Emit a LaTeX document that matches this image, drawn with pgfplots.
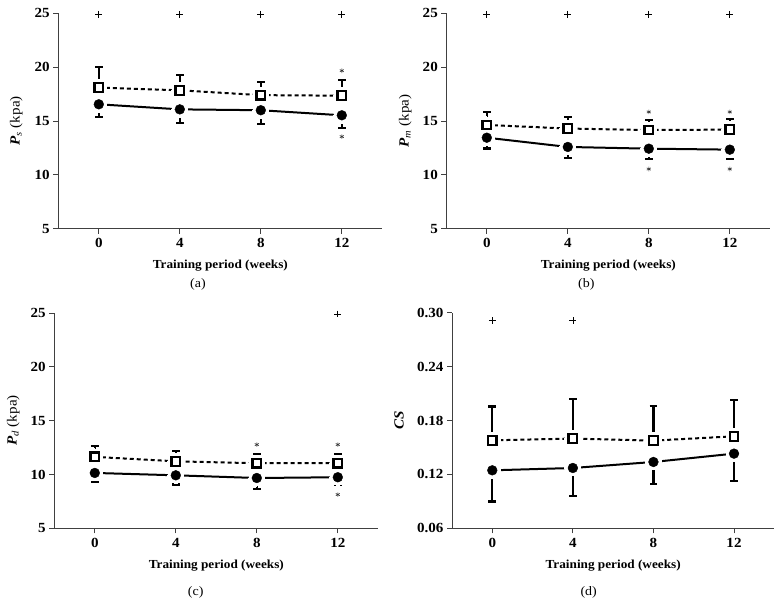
\documentclass[border=0pt]{standalone}
\usepackage{fontspec}
\setmainfont{Liberation Serif}[FakeStretch=1.08]
\usepackage{pgfplots}
\pgfplotsset{compat=1.18}
\pgfplotsset{
  base/.style={
    scale only axis, width=324bp, height=215.4bp,
    xmin=-2, xmax=14, ymin=5, ymax=25, ytick={5,10,15,20,25}, xtick={0,4,8,12},
    axis x line*=bottom, axis y line*=left,
    axis line style={black!75, line width=0.8bp},
    tick style={black!75, line width=0.8bp}, tick align=outside, major tick length=5bp,
    ticklabel style={font=\fontsize{14}{15}\selectfont\bfseries, black},
    xticklabel style={yshift=-1.5bp},
    /pgf/number format/assume math mode=true,
    xlabel={Training period (weeks)},
    xlabel style={font=\fontsize{12.3}{14}\selectfont\bfseries, at={(axis description cs:0.5,0)}, anchor=north, yshift=-28bp},
    ylabel style={font=\fontsize{14}{15}\selectfont, at={(axis description cs:-0.13,0.5)}, anchor=center},
    clip=false, anchor=south west,
  },
  halo/.style={only marks, mark=*, mark size=8bp, mark options={fill=white, draw=white, line width=0pt}, forget plot},
  lineS/.style={black, line width=2bp, dash pattern=on 4bp off 3bp, no marks},
  lineC/.style={black, line width=2bp, solid, no marks},
  sq/.style={only marks, mark=square*, mark size=4.3bp, mark options={fill=white, draw=black, line width=2.2bp, solid},
    error bars/.cd, y dir=plus, y explicit, error bar style={line width=2.2bp, black, solid},
    error mark options={rotate=90, line width=2.2bp, mark size=3.8bp, black, solid}},
  ci/.style={only marks, mark=*, mark size=4.9bp, mark options={fill=black, draw=black, solid},
    error bars/.cd, y dir=minus, y explicit, error bar style={line width=2.2bp, black, solid},
    error mark options={rotate=90, line width=2.2bp, mark size=3.8bp, black, solid}},
  plusm/.style={only marks, mark=+, mark size=3.4bp, mark options={line width=0.7bp, black}},
  starm/.style={only marks, mark=asterisk, mark size=2.3bp, mark options={line width=0.6bp, black!80}},
}
\begin{document}
\begin{tikzpicture}
\useasboundingbox (0,0) rectangle (784bp,616bp);

% (a)
\begin{axis}[base, at={(58.3bp,387.3bp)}, ylabel={\textbf{\textit{P}}\textsubscript{\textit{s}} (kpa)}]
\addplot[lineS] coordinates {(0,18.1) (4,17.85) (8,17.4) (12,17.35)};
\addplot[lineC] coordinates {(0,16.55) (4,16.08) (8,16.0) (12,15.53)};
\addplot[halo] coordinates {(0,18.1) (4,17.85) (8,17.4) (12,17.35)};
\addplot[halo] coordinates {(0,16.55) (4,16.08) (8,16.0) (12,15.53)};
\addplot[sq] coordinates {(0,18.1) +- (0,1.9) (4,17.85) +- (0,1.4) (8,17.4) +- (0,1.25) (12,17.35) +- (0,1.45)};
\addplot[ci] coordinates {(0,16.55) +- (0,1.2) (4,16.08) +- (0,1.23) (8,16.0) +- (0,1.28) (12,15.53) +- (0,1.18)};
\addplot[plusm] coordinates {(0,24.9) (4,24.9) (8,24.9) (12,24.9)};
\addplot[starm] coordinates {(12,19.67) (12,13.55)};
\end{axis}

% (b)
\begin{axis}[base, at={(446.3bp,387.3bp)}, ylabel={\textbf{\textit{P}}\textsubscript{\textit{m}} (kpa)}, ylabel style={at={(axis description cs:-0.127,0.5)}}]
\addplot[lineS] coordinates {(0,14.63) (4,14.3) (8,14.16) (12,14.2)};
\addplot[lineC] coordinates {(0,13.45) (4,12.59) (8,12.43) (12,12.34)};
\addplot[halo] coordinates {(0,14.63) (4,14.3) (8,14.16) (12,14.2)};
\addplot[halo] coordinates {(0,13.45) (4,12.59) (8,12.43) (12,12.34)};
\addplot[sq] coordinates {(0,14.63) +- (0,1.2) (4,14.3) +- (0,1.05) (8,14.16) +- (0,0.93) (12,14.2) +- (0,0.99)};
\addplot[ci] coordinates {(0,13.45) +- (0,1.0) (4,12.59) +- (0,0.99) (8,12.43) +- (0,0.99) (12,12.34) +- (0,0.9)};
\addplot[plusm] coordinates {(0,24.9) (4,24.9) (8,24.9) (12,24.9)};
\addplot[starm] coordinates {(8,15.84) (12,15.84) (8,10.54) (12,10.54)};
\end{axis}

% (c)
\begin{axis}[base, at={(54.3bp,87.7bp)}, ylabel={\textbf{\textit{P}}\textsubscript{\textit{d}} (kpa)}, ylabel style={at={(axis description cs:-0.127,0.5)}}]
\addplot[lineS] coordinates {(0,11.63) (4,11.22) (8,11.04) (12,11.04)};
\addplot[lineC] coordinates {(0,10.14) (4,9.92) (8,9.67) (12,9.74)};
\addplot[halo] coordinates {(0,11.63) (4,11.22) (8,11.04) (12,11.04)};
\addplot[halo] coordinates {(0,10.14) (4,9.92) (8,9.67) (12,9.74)};
\addplot[sq] coordinates {(0,11.63) +- (0,0.99) (4,11.22) +- (0,0.93) (8,11.04) +- (0,0.89) (12,11.04) +- (0,0.89)};
\addplot[ci] coordinates {(0,10.14) +- (0,0.87) (4,9.92) +- (0,0.86) (8,9.67) +- (0,1.02) (12,9.74) +- (0,0.68)};
\addplot[plusm] coordinates {(12,24.9)};
\addplot[starm] coordinates {(8,12.77) (12,12.77) (12,8.13)};
\end{axis}

% (d)
\begin{axis}[base, at={(452bp,87.7bp)}, width=322.3bp, ymin=0.06, ymax=0.30, ytick={0.06,0.12,0.18,0.24,0.30},
  yticklabel style={/pgf/number format/.cd, fixed, fixed zerofill, precision=2},
  ylabel={\textbf{\textit{CS}}}, ylabel style={at={(axis description cs:-0.164,0.5)}}]
\addplot[lineS] coordinates {(0,0.158) (4,0.160) (8,0.1577) (12,0.1625)};
\addplot[lineC] coordinates {(0,0.1246) (4,0.1272) (8,0.1339) (12,0.1432)};
\addplot[halo] coordinates {(0,0.158) (4,0.160) (8,0.1577) (12,0.1625)};
\addplot[halo] coordinates {(0,0.1246) (4,0.1272) (8,0.1339) (12,0.1432)};
\addplot[sq] coordinates {(0,0.158) +- (0,0.0376) (4,0.160) +- (0,0.0445) (8,0.1577) +- (0,0.039) (12,0.1625) +- (0,0.0405)};
\addplot[ci] coordinates {(0,0.1246) +- (0,0.0348) (4,0.1272) +- (0,0.0308) (8,0.1339) +- (0,0.0241) (12,0.1432) +- (0,0.0301)};
\addplot[plusm] coordinates {(0,0.2915) (4,0.2915)};
\end{axis}

\node[font=\fontsize{13}{14}\selectfont] at (198bp,332bp) {(a)};
\node[font=\fontsize{13}{14}\selectfont] at (586.3bp,332bp) {(b)};
\node[font=\fontsize{13}{14}\selectfont] at (195.7bp,24bp) {(c)};
\node[font=\fontsize{13}{14}\selectfont] at (588.7bp,24bp) {(d)};
\end{tikzpicture}
\end{document}
